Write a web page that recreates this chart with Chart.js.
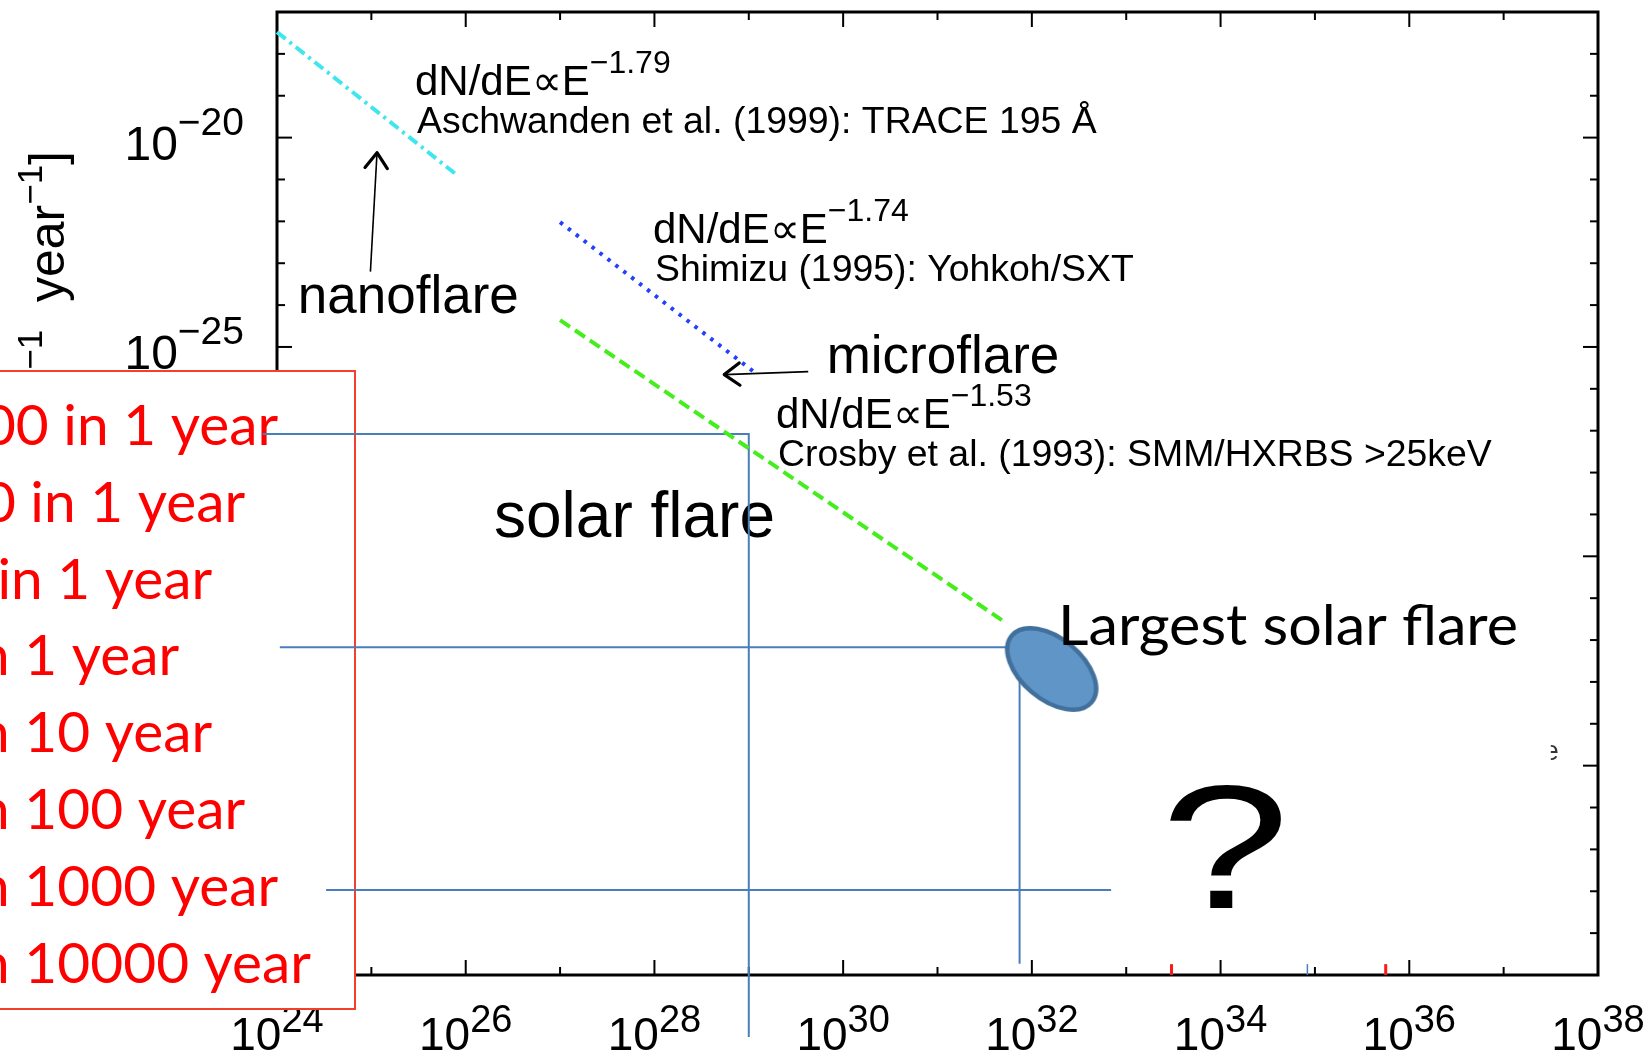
<!DOCTYPE html>
<html>
<head>
<meta charset="utf-8">
<title>Solar flare energy distribution</title>
<script src="https://cdn.jsdelivr.net/npm/chart.js"></script>
<style>
  html, body { margin: 0; padding: 0; background: #ffffff; overflow: hidden; }
  canvas { display: block; }
</style>
</head>
<body>
<canvas id="c" width="1651" height="1055" style="width:1651px;height:1055px"></canvas>
<script>
// ---- axis decades (log10 of flare energy in erg, log10 of occurrence rate) ----
const energyDecades = [24, 25, 26, 27, 28, 29, 30, 31, 32, 33, 34, 35, 36, 37, 38];
const energyLabelDecades = [24, 26, 28, 30, 32, 34, 36, 38];
const rateDecades = [-40, -39, -38, -37, -36, -35, -34, -33, -32, -31, -30, -29, -28,
                     -27, -26, -25, -24, -23, -22, -21, -20, -19, -18, -17];
const rateLabelDecades = [-40, -35, -30, -25, -20];

// ---- power-law fits dN/dE ∝ E^index : start point and end energy ----
const fitIndex      = [-1.79, -1.74, -1.53];
const fitStartLogE  = [24.0, 27.0, 27.0];
const fitStartLogN  = [-17.48, -22.02, -24.36];
const fitEndLogE    = [25.885, 29.08, 31.72];
const fitSources    = ['Aschwanden et al. (1999): TRACE 195 \u00C5',
                       'Shimizu (1995): Yohkoh/SXT',
                       'Crosby et al. (1993): SMM/HXRBS >25keV'];

// ---- largest observed solar flare ----
const largestFlareLogE = [32.21];
const largestFlareLogN = [-32.69];

// ---- reference levels read across to the energy axis ----
const guideALogE = [23.85, 29.0, 29.0];
const guideALogN = [-27.08, -27.08, -41.48];
const guideBLogE = [24.03, 31.87, 31.87];
const guideBLogN = [-32.17, -32.17, -39.73];
const guideCLogE = [24.52, 32.84];
const guideCLogN = [-37.97, -37.97];

// ---- short marks on the energy axis ----
const redMarkLogE  = [33.48, 35.75];
const blueMarkLogE = [34.92];
const markLogN     = [-40, -39.74];

// ---- pointer arrows ----
const nanoArrowLogE  = [24.99, 25.06];
const nanoArrowLogN  = [-23.2, -20.36];
const microArrowLogE = [29.63, 28.74];
const microArrowLogN = [-25.59, -25.66];

// ---- occurrence-rate legend ----
const rateLabels = ['1000 in 1 year', '100 in 1 year', '10 in 1 year', '1 in 1 year',
                    '1 in 10 year', '1 in 100 year', '1 in 1000 year', '1 in 10000 year'];

// ---------------------------------------------------------------------------
const HELV = '"Liberation Sans", Arial, Helvetica, sans-serif';
const CALI = 'Lato, Carlito, Calibri, sans-serif';
const MINUS = '\u2212';

const pt = (e, n) => ({ x: Math.pow(10, e), y: Math.pow(10, n) });
const series = (es, ns) => es.map((e, i) => pt(e, ns[i]));
function fitPoints(i) {
  const e0 = fitStartLogE[i], n0 = fitStartLogN[i], e1 = fitEndLogE[i];
  return [pt(e0, n0), pt(e1, n0 + fitIndex[i] * (e1 - e0))];
}
const expText = v => (v < 0 ? MINUS : '') + Math.abs(v);
const indexText = v => (v < 0 ? MINUS : '') + Math.abs(v).toFixed(2);

// blue ellipse marker used for the largest flare
function makeEllipse() {
  const c = document.createElement('canvas');
  c.width = 130; c.height = 130;
  const g = c.getContext('2d');
  g.translate(65, 65);
  g.rotate(40 * Math.PI / 180);
  g.beginPath();
  g.ellipse(0, 0, 52, 30.5, 0, 0, Math.PI * 2);
  g.fillStyle = '#6095c8';
  g.fill();
  g.lineWidth = 4.5;
  g.strokeStyle = '#41709c';
  g.stroke();
  return c;
}

// draws "base" with a raised exponent
function drawPower(ctx, base, sup, x, y, align, baseFont, supFont, rise) {
  ctx.font = baseFont; const wb = ctx.measureText(base).width;
  ctx.font = supFont;  const ws = ctx.measureText(sup).width;
  let x0 = x;
  if (align === 'center') x0 = x - (wb + ws) / 2;
  else if (align === 'right') x0 = x - wb - ws;
  ctx.textAlign = 'left';
  ctx.textBaseline = 'alphabetic';
  ctx.font = baseFont; ctx.fillText(base, x0, y);
  ctx.font = supFont;  ctx.fillText(sup, x0 + wb, y - rise);
}

function seg(ctx, x1, y1, x2, y2) {
  ctx.beginPath(); ctx.moveTo(x1, y1); ctx.lineTo(x2, y2); ctx.stroke();
}

// frame, inward ticks, tick labels, axis title and the rate legend box
const axesPlugin = {
  id: 'axesPlugin',
  beforeDatasetsDraw(chart) {
    const { ctx, chartArea: a, scales: { x, y } } = chart;
    const X = e => x.getPixelForValue(Math.pow(10, e));
    const Y = n => y.getPixelForValue(Math.pow(10, n));
    ctx.save();
    ctx.strokeStyle = '#000';
    ctx.lineWidth = 2;
    energyDecades.forEach(d => {
      const px = X(d), len = d % 2 === 0 ? 15 : 8;
      seg(ctx, px, a.bottom, px, a.bottom - len);
      seg(ctx, px, a.top, px, a.top + len);
    });
    rateDecades.forEach(d => {
      const py = Y(d), len = d % 5 === 0 ? 15 : 8;
      seg(ctx, a.left, py, a.left + len, py);
      seg(ctx, a.right, py, a.right - len, py);
    });
    ctx.lineWidth = 3;
    ctx.strokeRect(a.left, a.top, a.right - a.left, a.bottom - a.top);

    ctx.fillStyle = '#000';
    energyLabelDecades.forEach(d => {
      drawPower(ctx, '10', expText(d), X(d), a.bottom + 75, 'center',
        '46px ' + HELV, '38px ' + HELV, 18);
    });
    rateLabelDecades.forEach(d => {
      drawPower(ctx, '10', expText(d), a.left - 33, Y(d) + 22, 'right',
        '48px ' + HELV, '39px ' + HELV, 25);
    });

    // vertical axis title
    ctx.save();
    ctx.translate(64, 151);
    ctx.rotate(-Math.PI / 2);
    const parts = [['dN/dE [erg', false], [MINUS + '1', true], ['  year', false], [MINUS + '1', true], [']', false]];
    const fMain = '50px ' + HELV, fSup = '35px ' + HELV;
    let total = 0;
    parts.forEach(p => { ctx.font = p[1] ? fSup : fMain; total += ctx.measureText(p[0]).width; });
    let cx = -total;
    ctx.textAlign = 'left';
    parts.forEach(p => {
      ctx.font = p[1] ? fSup : fMain;
      ctx.fillText(p[0], cx, p[1] ? -22 : 0);
      cx += ctx.measureText(p[0]).width;
    });
    ctx.restore();

    // occurrence-rate legend box
    ctx.fillStyle = '#ffffff';
    ctx.fillRect(-10, 371, 365, 638);
    ctx.strokeStyle = '#f4402a';
    ctx.lineWidth = 2;
    ctx.strokeRect(-10, 371, 365, 638);
    ctx.fillStyle = '#ff0000';
    ctx.font = '57px ' + CALI;
    ctx.textAlign = 'left';
    const sx = 394 / ctx.measureText(rateLabels[rateLabels.length - 1]).width;
    rateLabels.forEach((t, i) => {
      ctx.save();
      ctx.translate(-83, 445 + i * 76.8);
      ctx.scale(sx, 1);
      ctx.fillText(t, 0, 0);
      ctx.restore();
    });

    // label sitting beneath the guide lines
    ctx.fillStyle = '#000';
    ctx.font = '64px ' + HELV;
    ctx.fillText('solar flare', X(26.30), Y(-29.55));
    ctx.restore();
  },

  afterDatasetsDraw(chart) {
    const { ctx, scales: { x, y } } = chart;
    const X = e => x.getPixelForValue(Math.pow(10, e));
    const Y = n => y.getPixelForValue(Math.pow(10, n));
    ctx.save();

    // open arrow heads on the pointer lines
    chart.data.datasets.forEach((ds, i) => {
      if (!ds.arrowHead) return;
      const pts = chart.getDatasetMeta(i).data;
      const p0 = pts[pts.length - 2], p1 = pts[pts.length - 1];
      const ang = Math.atan2(p1.y - p0.y, p1.x - p0.x);
      ctx.strokeStyle = '#000';
      ctx.lineWidth = 3.2;
      ctx.lineCap = 'round';
      ctx.lineJoin = 'round';
      const L = 19, spread = 36 * Math.PI / 180;
      ctx.beginPath();
      ctx.moveTo(p1.x - L * Math.cos(ang - spread), p1.y - L * Math.sin(ang - spread));
      ctx.lineTo(p1.x, p1.y);
      ctx.lineTo(p1.x - L * Math.cos(ang + spread), p1.y - L * Math.sin(ang + spread));
      ctx.stroke();
    });

    // power-law labels
    const fitAnchors = [[25.4625, -18.98], [27.985, -22.517], [29.288, -26.924]];
    ctx.fillStyle = '#000';
    fitAnchors.forEach((an, i) => {
      const px = X(an[0]), py = Y(an[1]);
      drawPower(ctx, 'dN/dE\u221DE', indexText(fitIndex[i]), px, py, 'left',
        '42px ' + HELV, '32px ' + HELV, 22);
      ctx.font = '37.4px ' + HELV;
      ctx.fillText(fitSources[i], px + 2, py + 38);
    });

    ctx.font = '53px ' + HELV;
    ctx.fillText('nanoflare', X(24.22), Y(-24.19));
    ctx.fillText('microflare', X(29.825), Y(-25.615));

    // largest flare caption
    ctx.font = '57px ' + CALI;
    const cap = 'Largest solar flare';
    const capScale = 460 / ctx.measureText(cap).width;
    ctx.save();
    ctx.translate(X(32.277), Y(-32.118));
    ctx.scale(capScale, 1);
    ctx.fillText(cap, 0, 0);
    ctx.restore();

    // question mark beyond the largest observed flare
    ctx.font = '170px ' + HELV;
    const m = ctx.measureText('?');
    const gw = m.actualBoundingBoxLeft + m.actualBoundingBoxRight;
    const gh = m.actualBoundingBoxAscent + m.actualBoundingBoxDescent;
    ctx.save();
    ctx.translate(X(34.052), Y(-38.40));
    ctx.scale(113 / gw, 124 / gh);
    ctx.fillText('?', -(m.actualBoundingBoxRight - m.actualBoundingBoxLeft) / 2, -m.actualBoundingBoxDescent);
    ctx.restore();

    // clipped letter fragment near the right frame
    ctx.save();
    ctx.beginPath();
    ctx.rect(X(37.5), Y(-34.0), 30, 45);
    ctx.clip();
    ctx.fillStyle = '#333';
    ctx.font = '27px ' + HELV;
    ctx.fillText('e', X(37.5) - 7, Y(-34.86));
    ctx.restore();

    ctx.restore();
  }
};

const lineBase = { showLine: true, pointRadius: 0, borderCapStyle: 'butt', tension: 0, clip: false, fill: false };
const fitColors = ['#3fe6ee', '#2440ff', '#44ee1c'];
const fitDash = [[11, 5, 3, 5], [3.5, 6.5], [12, 6]];

const datasets = [];
datasets.push({ label: 'Largest solar flare', data: series(largestFlareLogE, largestFlareLogN),
  showLine: false, pointStyle: makeEllipse(), pointRadius: 1, clip: false, order: 0 });
fitIndex.forEach((v, i) => datasets.push(Object.assign({}, lineBase, {
  label: fitSources[i], data: fitPoints(i), borderColor: fitColors[i],
  borderWidth: 4, borderDash: fitDash[i], order: 3 })));
[[guideALogE, guideALogN], [guideBLogE, guideBLogN], [guideCLogE, guideCLogN]].forEach((g, i) =>
  datasets.push(Object.assign({}, lineBase, { label: 'level ' + (i + 1), data: series(g[0], g[1]),
    borderColor: '#4a7ebb', borderWidth: 2, order: 5 })));
redMarkLogE.forEach(e => datasets.push(Object.assign({}, lineBase, {
  label: 'mark', data: series([e, e], markLogN), borderColor: '#ff1a1a', borderWidth: 3, order: 4 })));
blueMarkLogE.forEach(e => datasets.push(Object.assign({}, lineBase, {
  label: 'mark', data: series([e, e], markLogN), borderColor: '#4a7ebb', borderWidth: 1.5, order: 4 })));
datasets.push(Object.assign({}, lineBase, { label: 'nanoflare', data: series(nanoArrowLogE, nanoArrowLogN),
  borderColor: '#000', borderWidth: 1.6, arrowHead: true, order: 2 }));
datasets.push(Object.assign({}, lineBase, { label: 'microflare', data: series(microArrowLogE, microArrowLogN),
  borderColor: '#000', borderWidth: 1.6, arrowHead: true, order: 2 }));

new Chart(document.getElementById('c'), {
  type: 'scatter',
  data: { datasets },
  options: {
    responsive: false,
    animation: false,
    events: [],
    devicePixelRatio: 1,
    layout: { autoPadding: false, padding: { left: 277, right: 53, top: 12, bottom: 80 } },
    scales: {
      x: { type: 'logarithmic', min: 1e24, max: 1e38, display: false },
      y: { type: 'logarithmic', min: 1e-40, max: 1e-17, display: false }
    },
    plugins: { legend: { display: false }, tooltip: { enabled: false } }
  },
  plugins: [axesPlugin]
});
</script>
</body>
</html>
